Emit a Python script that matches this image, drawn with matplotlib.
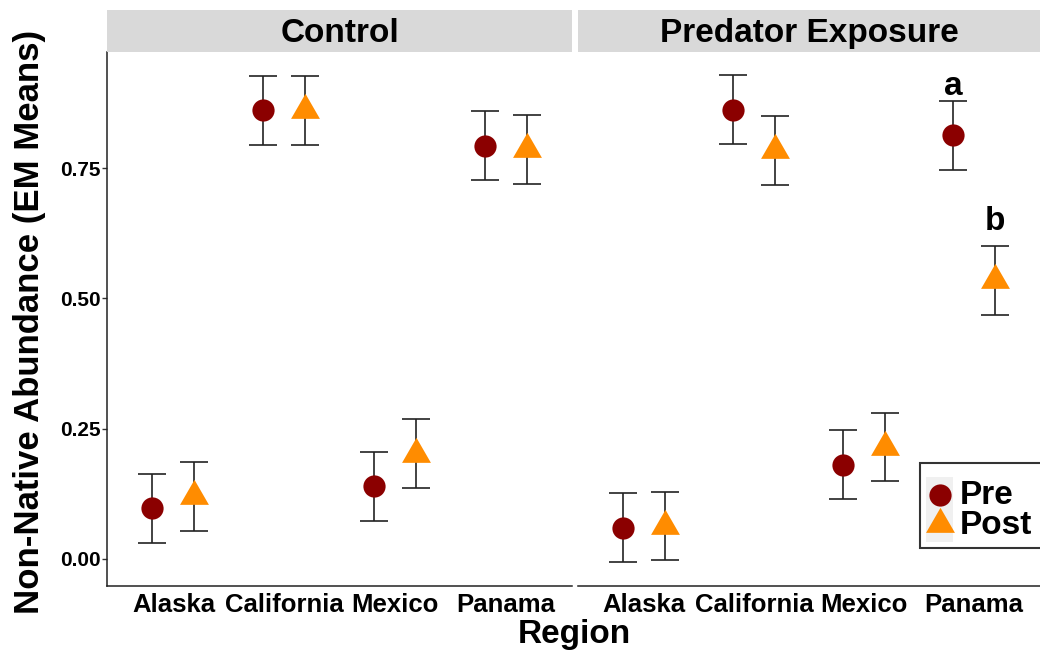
import matplotlib
matplotlib.use("Agg")
import matplotlib.pyplot as plt
import numpy as np
from matplotlib.lines import Line2D
from matplotlib.markers import MarkerStyle
from matplotlib.patches import Rectangle

plt.rcParams["font.family"] = ["Liberation Sans", "DejaVu Sans"]
plt.rcParams["font.weight"] = "bold"

regions = ["Alaska", "California", "Mexico", "Panama"]
panels = ["Control", "Predator Exposure"]
groups = ["Pre", "Post"]

control_pre = [0.097, 0.861, 0.139, 0.793]
control_post = [0.120, 0.861, 0.202, 0.786]
pred_pre = [0.060, 0.862, 0.181, 0.813]
pred_post = [0.063, 0.784, 0.215, 0.535]
control_pre_se = [0.066, 0.066, 0.066, 0.066]
control_post_se = [0.066, 0.066, 0.066, 0.066]
pred_pre_se = [0.066, 0.066, 0.066, 0.066]
pred_post_se = [0.066, 0.066, 0.066, 0.066]

PRE_COL = "#8B0000"
POST_COL = "#FF8C00"
BAR_COL = "#222222"

# triangle with centroid at origin, like ggplot's pch 17
tri = MarkerStyle([(0, 0.577), (-0.5, -0.289), (0.5, -0.289), (0, 0.577)])

W, H = 1040, 656
fig = plt.figure(figsize=(W / 100, H / 100), dpi=100)


def px(x0, y0, x1, y1):
    return [x0 / W, 1 - y1 / H, (x1 - x0) / W, (y1 - y0) / H]


def fx(x, y):
    return x / W, 1 - y / H


data = [
    (control_pre, control_pre_se, control_post, control_post_se),
    (pred_pre, pred_pre_se, pred_post, pred_post_se),
]
bounds = [(107, 572), (578, 1040)]
dodge = 0.19
x = np.arange(1, len(regions) + 1)

axes = []
for i, (name, (pre, pre_se, post, post_se), (x0, x1)) in enumerate(zip(panels, data, bounds)):
    ax = fig.add_axes(px(x0, 52, x1, 586))
    for xs, vals, se in ((x - dodge, pre, pre_se), (x + dodge, post, post_se)):
        ax.errorbar(xs, vals, yerr=se, fmt="none", ecolor=BAR_COL, elinewidth=1.2,
                    capsize=10, capthick=1.2, zorder=2)
    ax.plot(x - dodge, pre, "o", color=PRE_COL, markersize=16, markeredgewidth=0, zorder=3)
    ax.plot(x + dodge, post, marker=tri, linestyle="none", color=POST_COL,
            markersize=24, markeredgewidth=0, zorder=3)
    ax.set_xlim(0.4, 4.6)
    ax.set_ylim(-0.052, 0.973)
    ax.set_xticks(x)
    ax.set_xticklabels(regions, fontsize=18.5, fontweight="bold")
    ax.tick_params(axis="x", length=0, pad=5)
    for s in ("top", "right"):
        ax.spines[s].set_visible(False)
    ax.spines["bottom"].set_linewidth(1.1)
    ax.spines["left"].set_linewidth(1.1)
    ax.spines["bottom"].set_color("#222222")
    ax.spines["left"].set_color("#222222")
    if i == 0:
        ax.set_yticks([0.0, 0.25, 0.5, 0.75])
        ax.set_yticklabels(["0.00", "0.25", "0.50", "0.75"], fontsize=15, fontweight="bold")
        ax.tick_params(axis="y", length=3.5, width=1, pad=1, color="#333333")
    else:
        ax.spines["left"].set_visible(False)
        ax.set_yticks([])
    strip = fig.add_axes(px(x0, 10, x1, 52))
    strip.set_facecolor("#D9D9D9")
    strip.set_xticks([])
    strip.set_yticks([])
    for s in strip.spines.values():
        s.set_visible(False)
    strip.text(0.5, 0.45, name, ha="center", va="center", fontsize=24,
               fontweight="bold", transform=strip.transAxes)
    axes.append(ax)

# significance letters on Panama, predator exposure
ax2 = axes[1]
ax2.text(4 - dodge, pred_pre[3] + pred_pre_se[3] + 0.012, "a", ha="center", va="baseline",
         fontsize=24, fontweight="bold")
ax2.text(4 + dodge, pred_post[3] + pred_post_se[3] + 0.031, "b", ha="center", va="baseline",
         fontsize=24, fontweight="bold")

fig.text(574 / W, 1 - 634 / H, "Region", ha="center", va="center", fontsize=24, fontweight="bold")
fig.text(30 / W, 1 - 322 / H, "Non-Native Abundance (EM Means)", ha="center", va="center",
         rotation=90, fontsize=25, fontweight="bold")

# legend, drawn by hand to match ggplot's key layout
fig.add_artist(Rectangle(fx(920, 548), 130 / W, 85 / H, transform=fig.transFigure,
                         facecolor="white", edgecolor="#333333", linewidth=1.5, zorder=5))
fig.add_artist(Rectangle(fx(926, 542), 27 / W, 65 / H, transform=fig.transFigure,
                         facecolor="#F0F0F0", edgecolor="none", zorder=6))
fig.add_artist(Line2D([940 / W], [1 - 495 / H], transform=fig.transFigure, marker="o",
                      linestyle="none", color=PRE_COL, markersize=16, markeredgewidth=0, zorder=7))
fig.add_artist(Line2D([940 / W], [1 - 524 / H], transform=fig.transFigure, marker=tri,
                      linestyle="none", color=POST_COL, markersize=24, markeredgewidth=0, zorder=7))
for label, yy in zip(groups, (496, 525)):
    fig.text(960 / W, 1 - yy / H, label, ha="left", va="center", fontsize=24,
             fontweight="bold", zorder=8)

fig.savefig("out.png", dpi=100)
